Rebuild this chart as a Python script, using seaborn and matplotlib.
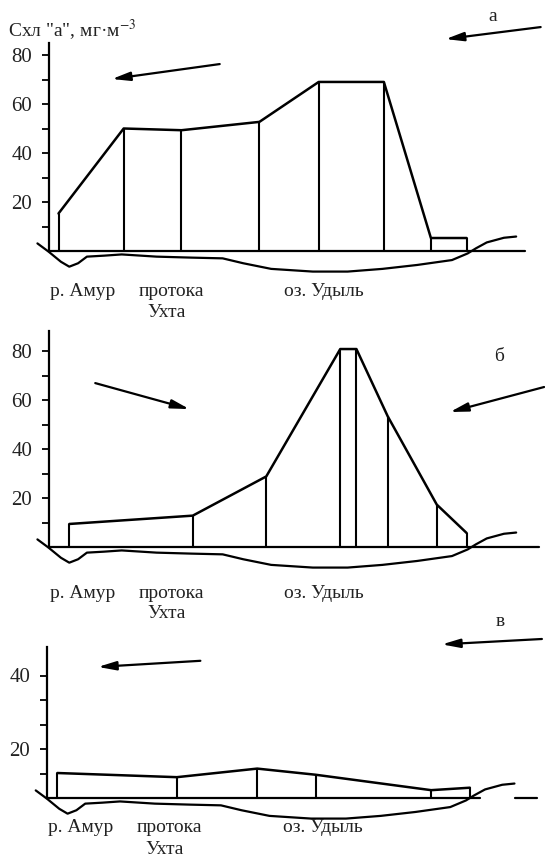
import matplotlib.pyplot as plt
import seaborn as sns

sns.set_theme(style='white')
plt.rcParams['font.family'] = ['Liberation Serif', 'DejaVu Serif']
plt.rcParams['mathtext.fontset'] = 'stix'

# станции по профилю р. Амур - протока Ухта - оз. Удыль (условное расстояние)
st_a = [2, 15.3, 27.1, 43, 55.1, 68.4, 78, 85.3]
chl_a = [15.3, 50, 49.3, 52.7, 69, 69, 5.3, 5.3]
st_b = [4.2, 29.4, 44.4, 59.5, 62.8, 69.2, 79.2, 85.3]
chl_b = [9.4, 12.8, 28.8, 80.8, 80.8, 53.3, 17.3, 5.7]
st_c = [2.1, 26.5, 42.9, 54.8, 78.4, 86.3]
chl_c = [10.2, 8.5, 12, 9.5, 3.2, 4.2]

# рельеф дна
bottom_x = [-2.3, 0, 2.5, 4.2, 6, 7.8, 11.3, 14.9, 22, 29.1, 35.5, 39.7, 45.4,
            53.9, 61, 68.1, 75.2, 82.3, 85.5, 87.2, 89.4, 92.9, 95.4]
bottom_y = [3.1, -0.3, -4.4, -6.4, -5, -2.3, -1.9, -1.4, -2.3, -2.7, -3, -5, -7.3,
            -8.4, -8.4, -7.3, -5.7, -3.7, -1, 1.1, 3.5, 5.4, 5.9]

places = ['р. Амур', 'протока', 'Ухта', 'оз. Удыль']
place_x = [6.9, 25, 24.1, 56.2]

W, H = 545, 859
SX, SY = 4.9, 2.45  # пикселей на единицу
fig = plt.figure(figsize=(W / 100, H / 100), dpi=100)


def make_ax(x0, y0):
    # x0, y0 - положение начала координат на рисунке (px)
    left = x0 - 3 * SX
    bottom = y0 + 14 * SY
    ax = fig.add_axes([left / W, 1 - bottom / H, 104 * SX / W, 114 * SY / H])
    ax.set_xlim(-3, 101)
    ax.set_ylim(-14, 100)
    ax.set_facecolor('none')
    for s in ['top', 'right', 'bottom']:
        ax.spines[s].set_visible(False)
    ax.spines['left'].set_position(('data', 0))
    ax.spines['left'].set_linewidth(1.6)
    ax.spines['left'].set_color('black')
    ax.set_xticks([])
    ax.tick_params(axis='y', which='both', left=True, direction='out', length=5,
                   width=1.3, color='black', pad=7, labelsize=15, labelcolor='#222')
    return ax


def draw(ax, st, chl, row_y, base_segments):
    sns.lineplot(x=st, y=chl, ax=ax, color='black', lw=1.8, sort=False, estimator=None)
    ax.vlines(st, 0, chl, color='black', lw=1.5)
    sns.lineplot(x=bottom_x, y=bottom_y, ax=ax, color='black', lw=1.6, sort=False,
                 estimator=None)
    for a, b in base_segments:
        ax.plot([a, b], [0, 0], color='black', lw=1.6)
    for name, px in zip(places, place_x):
        ry = row_y[1] if name == 'Ухта' else row_y[0]
        ax.text(px, ry, name, ha='center', va='center', fontsize=14, color='#222')
    for line in ax.lines:
        line.set_clip_on(False)
    ax.set_xlim(-3, 101)
    ax.set_ylim(-14, 100)


def arrow(ax, start, end):
    ax.annotate('', xy=end, xytext=start,
                arrowprops=dict(arrowstyle='-|>,head_length=0.9,head_width=0.22',
                                color='black', lw=1.6, shrinkA=0, shrinkB=0),
                annotation_clip=False)


# а
ax_a = make_ax(48.7, 251)
draw(ax_a, st_a, chl_a, (-16.7, -24.9), [(0, 97.3)])
ax_a.spines['left'].set_bounds(0, 85)
ax_a.set_yticks([20, 40, 60, 80])
ax_a.set_yticks([10, 30, 50, 70], minor=True)
arrow(ax_a, (34.9, 76.3), (12.9, 70.2))
arrow(ax_a, (100.4, 91.4), (81, 86.5))
ax_a.text(90.6, 95.9, 'а', fontsize=14, ha='center', va='center', color='#222')

# б
ax_b = make_ax(48.7, 547)
draw(ax_b, st_b, chl_b, (-18.8, -27), [(0, 100)])
ax_b.spines['left'].set_bounds(0, 88)
ax_b.set_yticks([20, 40, 60, 80])
ax_b.set_yticks([10, 30, 50, 70], minor=True)
arrow(ax_b, (9.5, 66.9), (28.7, 56.3))
arrow(ax_b, (101.1, 65.3), (81.9, 55.1))
ax_b.text(91.9, 77.9, 'б', fontsize=14, ha='center', va='center', color='#222')

# в
ax_c = make_ax(47, 798)
draw(ax_c, st_c, chl_c, (-12.2, -21.2), [(0, 88.4), (95.5, 100)])
ax_c.spines['left'].set_bounds(0, 61.6)
ax_c.set_yticks([20, 50])
ax_c.set_yticklabels(['20', '40'])
ax_c.set_yticks([10, 30, 40], minor=True)
arrow(ax_c, (31.3, 56), (10.4, 53.5))
arrow(ax_c, (101, 64.9), (80.6, 62.7))
ax_c.text(92.6, 72, 'в', fontsize=14, ha='center', va='center', color='#222')

fig.text(8 / W, 1 - 30 / H, 'Схл "а", мг·м$^{-3}$', ha='left', va='center',
         fontsize=14, color='#222')

fig.savefig('out.png', dpi=100, facecolor='white')
